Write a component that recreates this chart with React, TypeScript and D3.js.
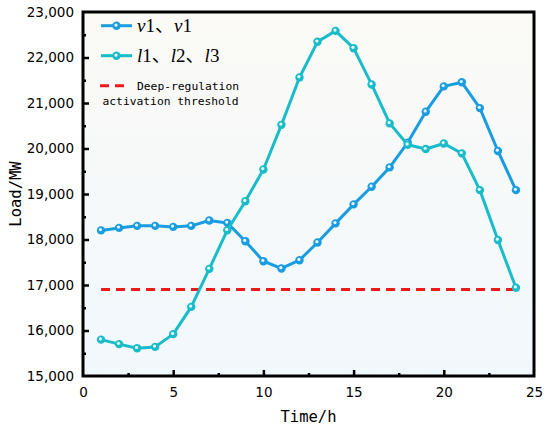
import * as d3 from "d3";
import { useRef, useEffect } from "react";

const hours = [1, 2, 3, 4, 5, 6, 7, 8, 9, 10, 11, 12, 13, 14, 15, 16, 17, 18, 19, 20, 21, 22, 23, 24];
const seriesV = [18200, 18255, 18300, 18300, 18277, 18300, 18418, 18365, 17963, 17523, 17363, 17545,
  17935, 18355, 18772, 19160, 19585, 20130, 20808, 21365, 21455, 20888, 19945, 19085];
const seriesL = [15800, 15700, 15610, 15640, 15920, 16519, 17354, 18204, 18842, 19538, 20520, 21560,
  22345, 22585, 22205, 21408, 20552, 20082, 19988, 20110, 19893, 19085, 17990, 16940];
const threshold = 16900;
const xTicks = [0, 5, 10, 15, 20, 25];
const yTicks = [15000, 16000, 17000, 18000, 19000, 20000, 21000, 22000, 23000];

const W = 550;
const H = 430;
const margin = { top: 12, right: 16, bottom: 54, left: 83 };

const blue = "#1a9de0";
const teal = "#19bcc8";

export default function App() {
  const ref = useRef<SVGSVGElement | null>(null);

  useEffect(() => {
    const svg = d3.select(ref.current);
    svg.selectAll("*").remove();

    const x = d3.scaleLinear().domain([0, 25]).range([margin.left, W - margin.right]);
    const y = d3.scaleLinear().domain([15000, 23000]).range([H - margin.bottom, margin.top]);

    const defs = svg.append("defs");
    const bg = defs.append("linearGradient")
      .attr("id", "bg").attr("x1", 0).attr("y1", 0).attr("x2", 0).attr("y2", 1);
    bg.append("stop").attr("offset", "0%").attr("stop-color", "#fbfaf6");
    bg.append("stop").attr("offset", "100%").attr("stop-color", "#f1f8fd");

    svg.append("rect")
      .attr("x", x(0)).attr("y", y(23000))
      .attr("width", x(25) - x(0)).attr("height", y(15000) - y(23000))
      .attr("fill", "url(#bg)");

    // threshold line
    svg.append("line")
      .attr("x1", x(1)).attr("x2", x(24))
      .attr("y1", y(threshold)).attr("y2", y(threshold))
      .attr("stroke", "#f01818").attr("stroke-width", 3)
      .attr("stroke-dasharray", "9,6");

    const line = d3.line<number>()
      .x((_, i) => x(hours[i]))
      .y(d => y(d));

    const drawSeries = (vals: number[], color: string) => {
      svg.append("path")
        .attr("d", line(vals))
        .attr("fill", "none")
        .attr("stroke", color)
        .attr("stroke-width", 3)
        .attr("stroke-linejoin", "round");
      const g = svg.append("g");
      g.selectAll("circle.m")
        .data(vals)
        .join("circle")
        .attr("class", "m")
        .attr("cx", (_, i) => x(hours[i]))
        .attr("cy", d => y(d))
        .attr("r", 4.2)
        .attr("fill", color);
      g.selectAll("circle.h")
        .data(vals)
        .join("circle")
        .attr("class", "h")
        .attr("cx", (_, i) => x(hours[i]) - 0.6)
        .attr("cy", d => y(d) - 0.8)
        .attr("r", 1.6)
        .attr("fill", "#ffffff")
        .attr("opacity", 0.9);
    };

    drawSeries(seriesV, blue);
    drawSeries(seriesL, teal);

    // axes
    const xAxis = svg.append("g")
      .attr("transform", `translate(0,${y(15000)})`)
      .call(d3.axisBottom(x).tickValues(xTicks).tickSize(-6).tickPadding(11).tickFormat(d3.format("d")));
    xAxis.selectAll(".tick").filter((d: any) => d === 0 || d === 25).select("line").remove();
    svg.append("g")
      .attr("transform", `translate(0,${y(15000)})`)
      .call(d3.axisBottom(x).tickValues([2.5, 7.5, 12.5, 17.5, 22.5]).tickSize(-3).tickFormat(() => ""))
      .call(g => g.select(".domain").remove());

    const yAxis = svg.append("g")
      .attr("transform", `translate(${x(0)},0)`)
      .call(d3.axisLeft(y).tickValues(yTicks).tickSize(-6).tickPadding(9).tickFormat(d3.format(",")));
    yAxis.selectAll(".tick").filter((d: any) => d === 15000 || d === 23000).select("line").remove();
    svg.append("g")
      .attr("transform", `translate(${x(0)},0)`)
      .call(d3.axisLeft(y).tickValues(d3.range(15500, 23000, 1000)).tickSize(-3).tickFormat(() => ""))
      .call(g => g.select(".domain").remove());

    [xAxis, yAxis].forEach(a => {
      a.select(".domain").remove();
      a.selectAll(".tick line").attr("stroke", "#000").attr("stroke-width", 2.5);
      a.selectAll(".tick text")
        .attr("fill", "#000")
        .style("font-family", "'DejaVu Sans', sans-serif")
        .style("font-size", "13.5px");
    });
    svg.selectAll("g .tick line").attr("stroke", "#000").attr("stroke-width", 2.5);

    // frame
    svg.append("rect")
      .attr("x", x(0)).attr("y", y(23000))
      .attr("width", x(25) - x(0)).attr("height", y(15000) - y(23000))
      .attr("fill", "none").attr("stroke", "#000").attr("stroke-width", 3);

    // axis titles
    svg.append("text")
      .attr("x", (x(0) + x(25)) / 2).attr("y", 422)
      .attr("text-anchor", "middle")
      .style("font-family", "'DejaVu Sans Mono', monospace")
      .style("font-size", "15.5px")
      .text("Time/h");
    svg.append("text")
      .attr("transform", `translate(21,${(y(15000) + y(23000)) / 2}) rotate(-90)`)
      .attr("text-anchor", "middle")
      .style("font-family", "'DejaVu Sans Mono', monospace")
      .style("font-size", "15.5px")
      .text("Load/MW");

    // legend
    const leg = svg.append("g");
    const legItems = [
      { color: blue, y: 25.7, parts: [["v", true], ["1", false], ["、", false], ["v", true], ["1", false]] },
      { color: teal, y: 55.7, parts: [["l", true], ["1", false], ["、", false], ["l", true], ["2", false], ["、", false], ["l", true], ["3", false]] },
    ];
    legItems.forEach(it => {
      leg.append("line")
        .attr("x1", 101).attr("x2", 132).attr("y1", it.y).attr("y2", it.y)
        .attr("stroke", it.color).attr("stroke-width", 3);
      leg.append("circle").attr("cx", 116.5).attr("cy", it.y).attr("r", 4.2).attr("fill", it.color);
      leg.append("circle").attr("cx", 116).attr("cy", it.y - 0.6).attr("r", 1.6).attr("fill", "#fff");
      const t = leg.append("text")
        .attr("x", 137).attr("y", it.y + 6)
        .style("font-family", "'Liberation Serif', serif")
        .style("font-size", "19px");
      it.parts.forEach(([s, ital]) => {
        t.append("tspan")
          .style("font-style", ital ? "italic" : "normal")
          .style("font-family", s === "、" ? "'Noto Sans CJK SC', sans-serif" : "'Liberation Serif', serif")
          .text(s as string);
      });
    });
    leg.append("line")
      .attr("x1", 100).attr("x2", 128).attr("y1", 85.7).attr("y2", 85.7)
      .attr("stroke", "#f01818").attr("stroke-width", 3).attr("stroke-dasharray", "9,6");
    leg.append("text")
      .attr("x", 137).attr("y", 90)
      .style("font-family", "'DejaVu Sans Mono', monospace")
      .style("font-size", "11.3px")
      .text("Deep-regulation");
    leg.append("text")
      .attr("x", 102.5).attr("y", 105)
      .style("font-family", "'DejaVu Sans Mono', monospace")
      .style("font-size", "11.3px")
      .text("activation threshold");
  }, []);

  return (
    <svg ref={ref} width={W} height={H}
      style={{ position: "absolute", left: 0, top: 0, background: "#fff" }} />
  );
}
